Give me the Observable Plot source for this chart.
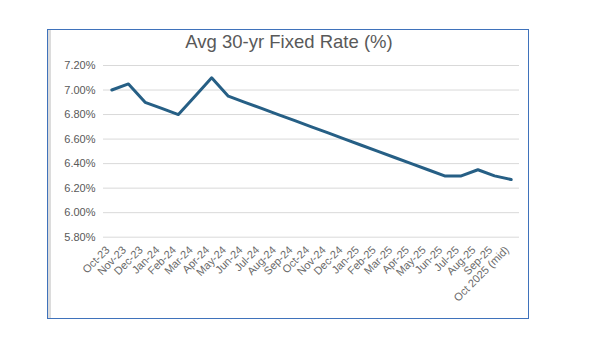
<!DOCTYPE html>
<html>
<head>
<meta charset="utf-8">
<script src="https://cdn.jsdelivr.net/npm/d3@7"></script>
<script src="https://cdn.jsdelivr.net/npm/@observablehq/plot@0.6"></script>
<style>
  html, body { margin: 0; padding: 0; background: #fff; width: 607px; height: 356px; overflow: hidden; }
  #frame { position: absolute; left: 47px; top: 29px; width: 480px; height: 288px; border: 1.5px solid #3f72bb; box-shadow: inset 3px 0 0 #dcdcdc; }
  #title { position: absolute; left: 47px; width: 484px; top: 31px; text-align: center; font-family: "Liberation Sans", Arial, sans-serif; font-size: 18.5px; color: #595959; }
  #chart { position: absolute; left: 0; top: 0; }
</style>
</head>
<body>
<div id="frame"></div>
<div id="chart"></div>
<div id="title">Avg 30-yr Fixed Rate (%)</div>
<script>
const months = ["Oct-23","Nov-23","Dec-23","Jan-24","Feb-24","Mar-24","Apr-24","May-24","Jun-24","Jul-24","Aug-24","Sep-24","Oct-24","Nov-24","Dec-24","Jan-25","Feb-25","Mar-25","Apr-25","May-25","Jun-25","Jul-25","Aug-25","Sep-25","Oct 2025 (mid)"];
const rates = [7.00, 7.05, 6.90, 6.85, 6.80, 6.95, 7.10, 6.95, 6.90, 6.85, 6.80, 6.75, 6.70, 6.65, 6.60, 6.55, 6.50, 6.45, 6.40, 6.35, 6.30, 6.30, 6.35, 6.30, 6.27];
const yTicks = [5.8, 6.0, 6.2, 6.4, 6.6, 6.8, 7.0, 7.2];

const data = months.map((m, i) => ({month: m, rate: rates[i]}));

const chart = Plot.plot({
  width: 607,
  height: 356,
  marginLeft: 103,
  marginRight: 88,
  marginTop: 65,
  marginBottom: 119.3,
  style: { fontFamily: "'Liberation Sans', Arial, sans-serif", color: "#595959", background: "transparent" },
  x: { type: "point", domain: months, padding: 0.5, round: false },
  y: { domain: [5.8, 7.2] },
  marks: [
    Plot.gridY(yTicks, { stroke: "#d9d9d9", strokeOpacity: 1, strokeWidth: 1 }),
    Plot.axisY(yTicks, { tickSize: 0, tickPadding: 8, fontSize: 11, tickFormat: d => d.toFixed(2) + "%", label: null, fill: "#595959" }),
    Plot.axisX({ tickSize: 0, tickPadding: 11, tickRotate: -45, fontSize: 11, label: null, fill: "#6a6a6a", dx: -4 }),
    Plot.line(data, { x: "month", y: "rate", stroke: "#265f85", strokeWidth: 3, strokeLinejoin: "round", strokeLinecap: "round" })
  ]
});
document.getElementById("chart").appendChild(chart);
</script>
</body>
</html>
